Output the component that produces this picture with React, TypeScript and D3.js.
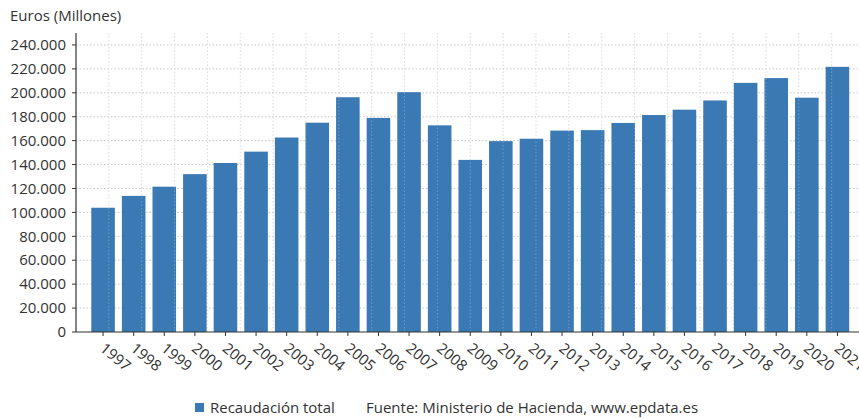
import React from "react";
import * as d3 from "d3";

const years = ["1997","1998","1999","2000","2001","2002","2003","2004","2005","2006","2007","2008","2009","2010","2011","2012","2013","2014","2015","2016","2017","2018","2019","2020","2021"];
const recaudacion = [103900, 113800, 121500, 132000, 141300, 150800, 162600, 175000, 196300, 179000, 200500, 172800, 143900, 159600, 161600, 168400, 168800, 174800, 181400, 185900, 193600, 208300, 212300, 195900, 221700];
const yTicks = [0, 20000, 40000, 60000, 80000, 100000, 120000, 140000, 160000, 180000, 200000, 220000, 240000];
const title = "Euros (Millones)";
const legendLabel = "Recaudación total";
const sourceLabel = "Fuente: Ministerio de Hacienda, www.epdata.es";

const W = 859, H = 419;
const left = 76, right = 864.5, top = 33, bottom = 332;
const barColor = "#3a79b3";
const font = "'Open Sans', sans-serif";
const textColor = "#333";
const fs = 15;

export default function App() {
  const x = d3.scaleBand<string>().domain(years).range([left, right]).paddingInner(0.23).paddingOuter(0.5 * 0.77 + 0.115);
  const y = d3.scaleLinear().domain([0, 250000]).range([bottom, top]);
  const gx = d3.scaleLinear().domain([0, years.length - 1]).range([left, right]);
  const gridIdx = d3.range(1, years.length);
  const fmt = (v: number) => d3.format(",")(v).replace(/,/g, ".");
  return (
    <svg width={W} height={H} style={{ position: "absolute", left: 0, top: 0, background: "#fff" }} fontFamily={font}>
      <text x={10} y={21} fontSize={fs} fill={textColor}>{title}</text>
      {yTicks.filter(t => t > 0).map(t => (
        <line key={"h" + t} x1={left} x2={W} y1={y(t)} y2={y(t)} stroke="#c8c8c8" strokeDasharray="1.5,2" />
      ))}
      {gridIdx.map(i => (
        <line key={"v" + i} x1={gx(i)} x2={gx(i)} y1={top} y2={bottom} stroke="#d6d6d6" strokeDasharray="1.5,2" />
      ))}
      {years.map((yr, i) => (
        <rect key={yr} x={x(yr)} y={y(recaudacion[i])} width={x.bandwidth()} height={bottom - y(recaudacion[i])} fill={barColor} />
      ))}
      {gridIdx.map(i => (
        <line key={"vo" + i} x1={gx(i)} x2={gx(i)} y1={top} y2={bottom} stroke="#ffffff" strokeOpacity={0.25} strokeDasharray="1.5,2" />
      ))}
      <line x1={left} x2={left} y1={top} y2={bottom} stroke="#333" strokeWidth={1.2} />
      <line x1={left} x2={W} y1={bottom} y2={bottom} stroke="#333" strokeWidth={1.2} />
      {yTicks.map(t => (
        <g key={"yt" + t}>
          <line x1={left - 4} x2={left} y1={y(t)} y2={y(t)} stroke="#333" />
          <text x={66} y={y(t)} dy="0.35em" textAnchor="end" fontSize={fs} fill={textColor}>{fmt(t)}</text>
        </g>
      ))}
      {years.map(yr => {
        const cx = (x(yr) as number) + x.bandwidth() / 2;
        return (
          <g key={"xt" + yr}>
            <line x1={cx} x2={cx} y1={bottom} y2={bottom + 4} stroke="#333" />
            <text transform={`translate(${cx - 4},${bottom + 18}) rotate(40)`} fontSize={fs} fill={textColor}>{yr}</text>
          </g>
        );
      })}
      <rect x={195} y={403} width={9} height={9} fill={barColor} />
      <text x={210} y={413} fontSize={fs} fill={textColor}>{legendLabel}</text>
      <text x={366} y={413} fontSize={fs} fill={textColor}>{sourceLabel}</text>
    </svg>
  );
}
